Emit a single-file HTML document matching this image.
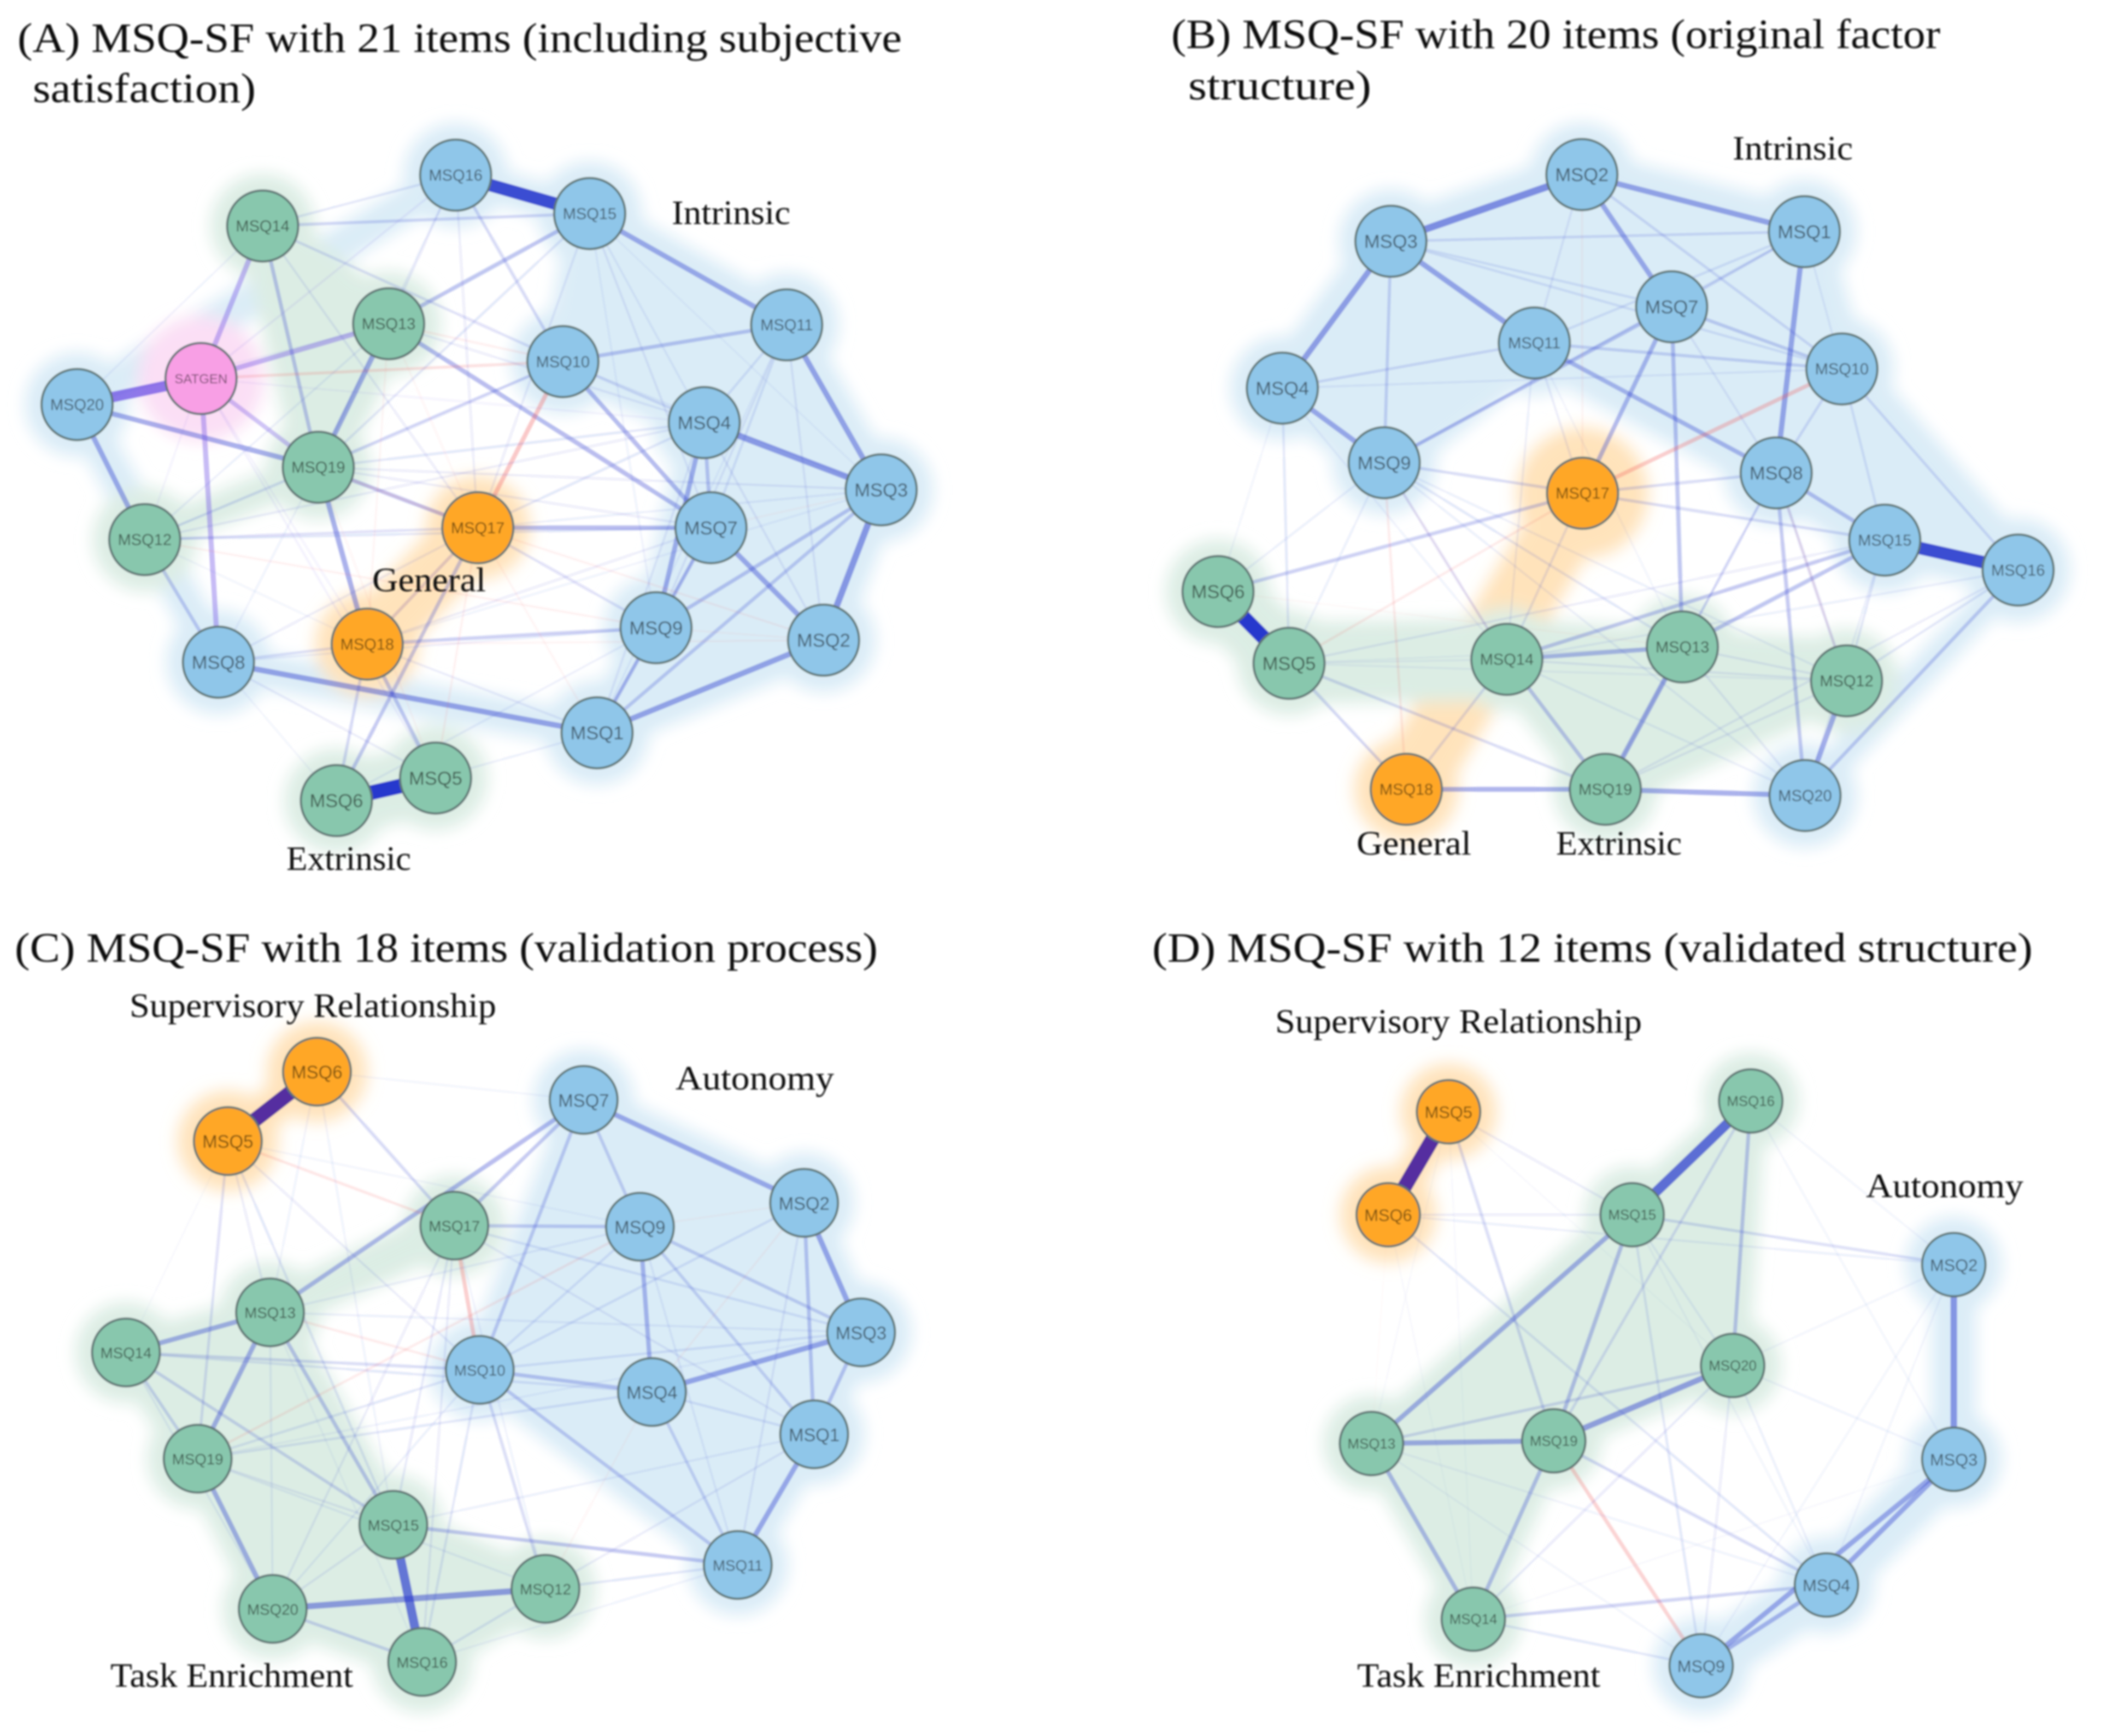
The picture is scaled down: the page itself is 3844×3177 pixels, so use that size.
<!DOCTYPE html>
<html lang="en">
<head>
<meta charset="utf-8">
<title>MSQ-SF network structures</title>
<style>
html,body{margin:0;padding:0;background:#fff;}
svg{display:block;}
.ttl{font-family:"Liberation Serif",serif;font-size:76px;fill:#111;}
.lab{font-family:"Liberation Serif",serif;font-size:62px;fill:#111;}
.node-text{font-family:"Liberation Sans",sans-serif;fill:#000;fill-opacity:.56;text-anchor:middle;dominant-baseline:central;}
</style>
</head>
<body>
<svg id="chart" xmlns="http://www.w3.org/2000/svg" width="3844" height="3177" viewBox="0 0 3844 3177">
<defs>
<filter id="soft" filterUnits="userSpaceOnUse" x="0" y="0" width="3844" height="3177"><feGaussianBlur stdDeviation="1.6"/></filter>
<filter id="hullBlur" filterUnits="userSpaceOnUse" x="0" y="0" width="3844" height="3177"><feGaussianBlur stdDeviation="15"/></filter>
</defs>
<rect width="3844" height="3177" fill="#fff"/>
<g id="graphs" filter="url(#soft)"></g>
<g filter="url(#soft)">
<text class="ttl" x="32" y="95" textLength="1618" lengthAdjust="spacingAndGlyphs">(A) MSQ-SF with 21 items (including subjective</text>
<text class="ttl" x="60" y="187" textLength="408" lengthAdjust="spacingAndGlyphs">satisfaction)</text>
<text class="ttl" x="2143" y="88" textLength="1407" lengthAdjust="spacingAndGlyphs">(B) MSQ-SF with 20 items (original factor</text>
<text class="ttl" x="2174" y="182" textLength="335" lengthAdjust="spacingAndGlyphs">structure)</text>
<text class="ttl" x="27" y="1760" textLength="1579" lengthAdjust="spacingAndGlyphs">(C) MSQ-SF with 18 items (validation process)</text>
<text class="ttl" x="2108" y="1760" textLength="1611" lengthAdjust="spacingAndGlyphs">(D) MSQ-SF with 12 items (validated structure)</text>
<text class="lab" x="1229" y="410" textLength="217" lengthAdjust="spacingAndGlyphs">Intrinsic</text>
<text class="lab" x="681" y="1082" textLength="208" lengthAdjust="spacingAndGlyphs">General</text>
<text class="lab" x="524" y="1592" textLength="228" lengthAdjust="spacingAndGlyphs">Extrinsic</text>
<text class="lab" x="3170" y="292" textLength="220" lengthAdjust="spacingAndGlyphs">Intrinsic</text>
<text class="lab" x="2482" y="1564" textLength="210" lengthAdjust="spacingAndGlyphs">General</text>
<text class="lab" x="2847" y="1564" textLength="230" lengthAdjust="spacingAndGlyphs">Extrinsic</text>
<text class="lab" x="237" y="1861" textLength="671" lengthAdjust="spacingAndGlyphs">Supervisory Relationship</text>
<text class="lab" x="1236" y="1994" textLength="290" lengthAdjust="spacingAndGlyphs">Autonomy</text>
<text class="lab" x="202" y="3087" textLength="444" lengthAdjust="spacingAndGlyphs">Task Enrichment</text>
<text class="lab" x="2333" y="1890" textLength="671" lengthAdjust="spacingAndGlyphs">Supervisory Relationship</text>
<text class="lab" x="3414" y="2191" textLength="288" lengthAdjust="spacingAndGlyphs">Autonomy</text>
<text class="lab" x="2483" y="3087" textLength="445" lengthAdjust="spacingAndGlyphs">Task Enrichment</text>
</g>
</svg>
<script>
// Item labels, layout coordinates (abstract layout units), factor and edge weights per panel.
// Edge triples: [item, item, weight]; item 0 = SATGEN, negative weight = negative association.
const panelALabels = ["SATGEN","MSQ1","MSQ2","MSQ3","MSQ4","MSQ5","MSQ6","MSQ7","MSQ8","MSQ9","MSQ10","MSQ11","MSQ12","MSQ13","MSQ14","MSQ15","MSQ16","MSQ17","MSQ18","MSQ19","MSQ20"];
const panelAX = [300,891,1229,1315,1051,650,502,1061,326,979,840,1174,216,580,392,880,680,713,548,475,115];
const panelAY = [670,1297,1133,867,748,1377,1417,934,1172,1111,640,575,955,573,400,378,310,934,1140,827,716];
const panelAFactors = ["pink","blue","blue","blue","blue","green","green","blue","blue","blue","blue","blue","green","green","green","blue","blue","orange","orange","green","blue"];
const panelAEdges = [[16,15,.85],[20,0,.7],[5,6,1],[15,11,.3],[11,3,.33],[4,3,.38],[3,2,.4],[2,1,.33],[1,8,.33],[8,12,.18],[12,20,.3],[20,19,.3],[0,14,.3],[0,13,.3],[0,19,.25],[0,8,.3],[13,19,.3],[13,7,.25],[14,15,.15],[14,19,.2],[15,13,.22],[16,10,.15],[10,7,.25],[10,11,.2],[19,18,.3],[19,17,.22],[4,9,.28],[7,2,.3],[7,9,.2],[9,1,.2],[17,7,.25],[10,19,.15],[17,10,-.25],[3,9,.2],[18,9,.18],[8,18,.12],[17,6,.2],[18,5,.2],[18,6,.15],[0,10,-.14],[19,17,-.1],[16,14,.1],[16,13,.08],[16,19,.07],[16,0,.08],[16,17,.08],[15,19,.1],[15,17,.08],[15,4,.07],[15,7,.08],[15,9,.06],[15,3,.05],[14,10,.12],[14,17,.08],[13,10,-.08],[13,17,-.05],[13,4,.08],[13,18,-.06],[11,4,.1],[11,7,.1],[11,9,.08],[11,2,.08],[11,1,.06],[10,4,.12],[10,3,.06],[10,12,.06],[19,4,.1],[19,3,.08],[19,7,.08],[19,12,.1],[19,8,.06],[19,5,-.05],[12,17,.12],[12,7,.1],[12,18,.05],[12,9,-.07],[12,0,.06],[12,13,.07],[12,4,.08],[20,14,.06],[20,13,.05],[17,3,.07],[17,4,.1],[17,9,.12],[17,2,-.07],[17,1,-.06],[17,5,-.07],[17,18,.15],[17,8,.08],[4,7,.2],[4,1,.08],[4,2,.08],[7,1,.12],[7,3,-.05],[3,1,.18],[3,18,.06],[9,2,-.05],[9,8,.07],[18,1,.08],[18,2,-.06],[18,7,.08],[8,5,.08],[8,6,.05],[5,1,.07],[9,6,.07],[0,4,.06],[0,18,.06],[0,5,.07]];
const panelAHullMembers = [[15,11,3,2,1,9,4,10],[20,16,15],[20,8,1],[14,13,19],[19,12],[12,12],[14,14],[13,13],[19,19],[5,6],[17,18],[17,17],[18,18],[0,0]];
const panelAHullFactors = ["blue","blue","blue","green","green","green","green","green","green","green","orange","orange","orange","pink"];
const panelAHullClosed = [true,false,false,true,false,false,false,false,false,false,false,false,false,false];
const panelAHullWidths = [74,64,64,84,60,170,140,180,160,130,120,190,190,230];

const panelBLabels = ["MSQ1","MSQ2","MSQ3","MSQ4","MSQ5","MSQ6","MSQ7","MSQ8","MSQ9","MSQ10","MSQ11","MSQ12","MSQ13","MSQ14","MSQ15","MSQ16","MSQ17","MSQ18","MSQ19","MSQ20"];
const panelBX = [1125,793,508,346,356,250,927,1083,498,1181,722,1188,943,681,1245,1444,794,531,828,1126];
const panelBY = [410,309,427,687,1174,1047,543,837,819,653,607,1205,1145,1167,956,1009,873,1397,1397,1408];
const panelBFactors = ["blue","blue","blue","blue","green","green","blue","blue","blue","blue","blue","green","green","green","blue","blue","orange","orange","green","blue"];
const panelBEdges = [[3,2,.45],[2,1,.33],[2,7,.3],[3,4,.35],[3,11,.32],[1,8,.32],[7,17,.25],[7,13,.22],[4,9,.3],[4,11,.12],[3,9,.15],[9,7,.2],[11,8,.25],[8,15,.22],[15,16,.85],[6,5,1],[10,17,-.22],[9,14,.12],[9,14,-.06],[9,18,-.1],[17,6,.18],[14,13,.25],[13,19,.3],[14,19,.2],[15,14,.2],[15,13,.22],[12,20,.3],[16,20,.18],[8,20,.2],[18,19,.28],[19,20,.3],[5,19,.14],[5,18,.14],[14,18,.12],[15,5,.08],[17,5,-.1],[17,14,.1],[17,15,.14],[17,8,.14],[17,9,.14],[17,11,.08],[2,17,-.06],[2,11,.08],[2,10,.12],[1,3,.12],[1,7,.12],[1,11,.1],[1,9,.1],[1,10,.07],[3,10,.1],[3,7,.1],[7,10,.17],[11,10,.15],[7,8,.08],[4,10,.07],[10,15,.1],[10,16,.12],[10,8,.12],[16,14,.07],[16,12,.1],[16,19,.08],[8,12,.14],[8,13,.12],[8,19,.08],[15,12,.1],[15,20,.07],[4,5,.1],[4,6,.05],[4,14,.06],[9,6,.07],[9,5,.07],[9,13,.1],[9,12,.07],[9,20,.07],[11,14,.07],[11,13,.05],[5,14,.06],[5,13,.05],[5,12,.06],[6,18,.05],[14,12,.08],[13,12,.08],[13,20,.08],[14,20,.07],[12,19,.08],[6,13,-.04],[8,12,-.07]];
const panelBHullMembers = [[17,18],[17,17],[18,18],[14,13,12,19],[5,14,12],[6,5],[4,3,2,1,10,16,15,8,11,9],[16,20],[20,20]];
const panelBHullFactors = ["orange","orange","orange","green","green","green","blue","blue","blue"];
const panelBHullClosed = [false,false,false,true,false,false,true,false,false];
const panelBHullWidths = [130,240,190,80,150,130,90,54,140];

const panelCLabels = ["MSQ1","MSQ2","MSQ3","MSQ4","MSQ5","MSQ6","MSQ7","MSQ9","MSQ10","MSQ11","MSQ12","MSQ13","MSQ14","MSQ15","MSQ16","MSQ17","MSQ19","MSQ20"];
const panelCX = [1215,1200,1285,973,340,473,871,955,716,1101,814,403,188,587,630,678,295,407];
const panelCY = [1013,586,825,935,472,344,396,630,894,1254,1298,788,862,1180,1433,628,1058,1335];
const panelCFactors = ["blue","blue","blue","blue","orange","orange","blue","blue","blue","blue","green","green","green","green","green","green","green","green"];
const panelCEdges = [[6,5,1],[6,17,.15],[6,7,.05],[7,17,.2],[7,13,.25],[7,10,.18],[7,9,.16],[7,2,.3],[2,3,.32],[2,1,.2],[3,4,.32],[3,1,.2],[1,11,.3],[9,4,.25],[9,1,.15],[9,3,.17],[10,4,.2],[10,11,.18],[17,9,.18],[17,10,-.22],[13,14,.28],[13,19,.28],[13,15,.2],[19,20,.28],[15,16,.6],[20,12,.38],[20,16,.15],[15,11,.2],[5,19,.12],[5,17,-.12],[13,10,-.1],[14,10,.14],[14,4,.1],[14,15,.15],[14,19,.15],[19,9,-.1],[19,10,.1],[19,4,.1],[12,4,-.05],[4,11,.15],[10,12,.14],[10,16,.1],[17,16,.08],[17,15,.09],[17,3,.1],[17,1,.08],[10,2,.1],[10,3,.1],[10,9,.1],[4,2,-.06],[12,11,.1],[12,1,.08],[16,12,.1],[5,13,.08],[5,15,.1],[5,10,.08],[5,14,.03],[6,13,.06],[6,15,.06],[5,9,.05],[13,3,.07],[13,9,.07],[13,20,.07],[13,16,.05],[19,15,.08],[19,12,.07],[19,3,.06],[20,15,.08],[20,17,.08],[20,10,.07],[14,20,.07],[15,1,.07],[16,11,.06],[9,11,.07],[9,2,-.05],[4,1,.1],[12,17,.06],[2,11,.08]];
const panelCHullMembers = [[5,6],[14,13,15,12,16,20,19],[13,17],[7,2,3,1,11,10]];
const panelCHullFactors = ["orange","green","green","blue"];
const panelCHullClosed = [false,true,false,true];
const panelCHullWidths = [70,70,80,66];

const panelDLabels = ["MSQ2","MSQ3","MSQ4","MSQ5","MSQ6","MSQ9","MSQ13","MSQ14","MSQ15","MSQ16","MSQ19","MSQ20"];
const panelDX = [1348,1348,1158,594,504,971,479,631,868,1045,751,1018];
const panelDY = [700,1059,1291,418,608,1440,1030,1354,608,398,1025,886];
const panelDFactors = ["blue","blue","blue","orange","orange","blue","green","green","green","green","green","green"];
const panelDEdges = [[5,6,1],[16,15,.65],[2,3,.4],[3,4,.3],[3,9,.3],[4,9,.25],[15,13,.28],[15,19,.22],[16,20,.2],[13,19,.3],[19,20,.35],[13,14,.24],[19,14,.22],[13,20,.14],[16,19,.12],[5,19,.14],[5,15,.08],[6,15,.08],[6,2,.07],[15,2,.13],[6,4,.1],[19,4,.15],[19,9,-.2],[14,4,.17],[14,9,.1],[20,9,.08],[20,4,.07],[20,14,.09],[20,2,.05],[20,3,.06],[15,9,.1],[15,20,.07],[5,13,.03],[5,14,.03],[6,13,-.02],[5,20,.03],[13,4,.06],[16,2,.05],[16,3,.05],[2,4,.05],[2,9,.05],[14,3,.03],[13,9,.05],[15,4,.05],[6,14,.03]];
const panelDHullMembers = [[5,6],[16,13,14,19,20],[2,3],[3,4,9],[9,9]];
const panelDHullFactors = ["orange","green","blue","blue","blue"];
const panelDHullClosed = [false,true,false,false,false];
const panelDHullWidths = [64,58,80,100,170];

const factorFill = {blue:"#8fc6e9",green:"#88c7ad",orange:"#ffa726",pink:"#f89fe5"};
const factorHull = {blue:"#daecf7",green:"#dcede4",orange:"#ffe3bb",pink:"#fbdff5"};
const SVGNS = "http://www.w3.org/2000/svg";
const root = document.getElementById("graphs");

function make(tag, attrs, parent){
  const el = document.createElementNS(SVGNS, tag);
  for (const k in attrs) el.setAttribute(k, attrs[k]);
  parent.appendChild(el);
  return el;
}
function itemKey(n){ return n === 0 ? "SATGEN" : "MSQ" + n; }
function edgeAlpha(abs){
  const a = abs < 0.3 ? 1.5 * Math.pow(abs, 1.1) : 0.39 + (abs - 0.3) * 0.9;
  return Math.min(1, a);
}

function drawPanel(id, labels, xs, ys, factors, edges, hullMembers, hullFactors, hullClosed, hullWidths, ox, oy, ky, r){
  const sx = v => ox + v * 1.226;
  const sy = v => oy + v * ky;
  const index = {};
  labels.forEach((l, i) => { index[l] = i; });
  const px = n => sx(xs[index[itemKey(n)]]);
  const py = n => sy(ys[index[itemKey(n)]]);
  const factorOf = n => factors[index[itemKey(n)]];

  const panel = make("g", {}, root);
  
  

  const hullLayer = make("g", {filter:"url(#hullBlur)"}, panel);
  
  
  hullMembers.forEach((members, h) => {
    const pts = members.map(n => px(n) + "," + py(n)).join(" ");
    const col = factorHull[hullFactors[h]];
    const hull = make(hullClosed[h] ? "polygon" : "polyline", {points:pts, fill:hullClosed[h] ? col : "none", stroke:col, "stroke-width":hullWidths[h], "stroke-linejoin":"round", "stroke-linecap":"round"}, hullLayer);
    
    
  });
  labels.forEach((l, i) => {
    const halo = make("circle", {cx:sx(xs[i]), cy:sy(ys[i]), r:r + 30, fill:factorHull[factors[i]]}, hullLayer);
    
    
  });

  const edgeLayer = make("g", {}, panel);
  
  
  edges.forEach(e => {
    const w = e[2], abs = Math.abs(w);
    let rgb = "38,56,205";
    if (w < 0) rgb = "240,85,85";
    else if (factorOf(e[0]) === "orange" && factorOf(e[1]) === "orange") rgb = "84,46,160";
    else if (factorOf(e[0]) === "pink" || factorOf(e[1]) === "pink") rgb = "110,80,228";
    const line = make("line", {x1:px(e[0]), y1:py(e[0]), x2:px(e[1]), y2:py(e[1]), stroke:"rgba(" + rgb + "," + edgeAlpha(abs) + ")", "stroke-width":2 + 25 * abs}, edgeLayer);
    
    
  });

  labels.forEach((l, i) => {
    const g = make("g", {}, panel);
    
    
    make("circle", {cx:sx(xs[i]), cy:sy(ys[i]), r:r, fill:factorFill[factors[i]], stroke:"#5f7473", "stroke-width":4}, g);
    const size = (l === "SATGEN" ? 24 : (l.length === 4 ? 34.5 : 29)) * r / 65;
    const t = make("text", {x:sx(xs[i]), y:sy(ys[i]) + 1, class:"node-text", "font-size":size}, g);
    t.textContent = l;
  });
}

drawPanel("a", panelALabels, panelAX, panelAY, panelAFactors, panelAEdges, panelAHullMembers, panelAHullFactors, panelAHullClosed, panelAHullWidths, 0, 0, 1.034, 65);
drawPanel("b", panelBLabels, panelBX, panelBY, panelBFactors, panelBEdges, panelBHullMembers, panelBHullFactors, panelBHullClosed, panelBHullWidths, 1922, 0, 1.034, 65);
drawPanel("c", panelCLabels, panelCX, panelCY, panelCFactors, panelCEdges, panelCHullMembers, panelCHullFactors, panelCHullClosed, panelCHullWidths, 0, 1620, 0.992, 62);
drawPanel("d", panelDLabels, panelDX, panelDY, panelDFactors, panelDEdges, panelDHullMembers, panelDHullFactors, panelDHullClosed, panelDHullWidths, 1922, 1620, 0.992, 58);
</script>
</body>
</html>
